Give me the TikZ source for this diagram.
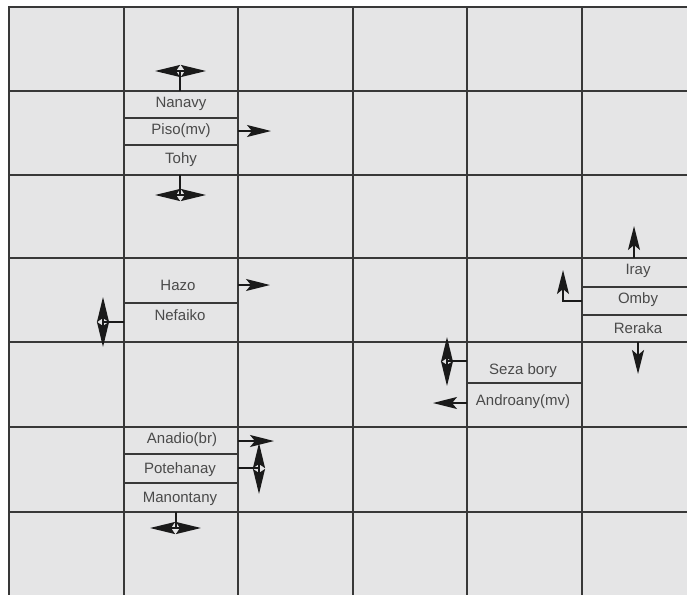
\documentclass[tikz,border=0pt]{standalone}
\usepackage{fontspec}
\setmainfont{Liberation Sans}
\usetikzlibrary{arrows.meta}
\definecolor{cellc}{HTML}{E5E5E6}
\definecolor{linec}{HTML}{383838}
\definecolor{txtc}{HTML}{4A4A4A}
\definecolor{arrc}{HTML}{1A1A1A}
\begin{document}
\begin{tikzpicture}[x=1pt,y=-1pt,
 grid/.style={draw=linec, line width=2pt},
 sub/.style={draw=linec, line width=1.6pt},
 lbl/.style={text=txtc, font=\fontsize{15}{17}\selectfont, inner sep=0pt},
 sarr/.style={draw=arrc, line width=1.8pt, -{Stealth[length=24pt,width=12pt,inset=5pt]}},
 darr/.style={draw=arrc, line width=1.8pt, {Stealth[length=25pt,width=12pt,inset=4pt]}-{Stealth[length=25pt,width=12pt,inset=4pt]}},
 stem/.style={draw=arrc, line width=1.8pt}]
\useasboundingbox (0,0) rectangle (687,595);
\fill[white] (0,0) rectangle (687,595);
\fill[cellc] (9,7) rectangle (687,595);
% grid
\foreach \y in {7,91,175,258,342,427,512} \draw[grid] (8,\y) -- (687,\y);
\foreach \x in {9,124,238,353,467,582} \draw[grid] (\x,6) -- (\x,595);
% sub-lines
\draw[sub] (124,118) -- (238,118);
\draw[sub] (124,145) -- (238,145);
\draw[sub] (124,303) -- (238,303);
\draw[sub] (582,287) -- (687,287);
\draw[sub] (582,315) -- (687,315);
\draw[sub] (467,383) -- (582,383);
\draw[sub] (124,454) -- (238,454);
\draw[sub] (124,483) -- (238,483);
% labels
\node[lbl] (nanavy) at (181,104) {Nanavy};
\node[lbl] (piso) at (181,131) {Piso(mv)};
\node[lbl] (tohy) at (181,160) {Tohy};
\node[lbl] (hazo) at (178,285) {Hazo};
\node[lbl] (nefaiko) at (180,315) {Nefaiko};
\node[lbl] (iray) at (638,271) {Iray};
\node[lbl] (omby) at (638,300) {Omby};
\node[lbl] (reraka) at (638,328) {Reraka};
\node[lbl] (seza) at (523,371) {Seza bory};
\node[lbl] (androany) at (523,402) {Androany(mv)};
\node[lbl] (anadio) at (182,440) {Anadio(br)};
\node[lbl] (potehanay) at (180,470) {Potehanay};
\node[lbl] (manontany) at (180,499) {Manontany};
% arrow coordinates
\coordinate (topS) at (180,91);   \coordinate (topC) at (180,71);
\coordinate (topL) at (155,71);   \coordinate (topR) at (206,71);
\coordinate (pisoA) at (238,131); \coordinate (pisoB) at (271,131);
\coordinate (tohS) at (180,175);  \coordinate (tohC) at (180,195);
\coordinate (tohL) at (155,195);  \coordinate (tohR) at (206,195);
\coordinate (hazoA) at (238,285); \coordinate (hazoB) at (270,285);
\coordinate (nefS) at (124,322);  \coordinate (nefC) at (103,322);
\coordinate (nefT) at (103,297);  \coordinate (nefB) at (103,347);
\coordinate (irayA) at (634,258); \coordinate (irayB) at (634,226);
\coordinate (ombS) at (582,301);  \coordinate (ombE) at (563,301);
\coordinate (ombT) at (563,270);
\coordinate (rerA) at (638,342);  \coordinate (rerB) at (638,374);
\coordinate (sezS) at (467,361);  \coordinate (sezC) at (447,361);
\coordinate (sezT) at (447,337);  \coordinate (sezB) at (447,386);
\coordinate (andA) at (467,403);  \coordinate (andB) at (433,403);
\coordinate (anaA) at (238,441);  \coordinate (anaB) at (274,441);
\coordinate (potS) at (238,468);  \coordinate (potC) at (259,468);
\coordinate (potT) at (259,443);  \coordinate (potB) at (259,494);
\coordinate (manS) at (176,512);  \coordinate (manC) at (176,528);
\coordinate (manL) at (150,528);  \coordinate (manR) at (201,528);
% arrows
\draw[stem] (topS) -- (topC);  \draw[darr] (topL) -- (topR);
\draw[sarr] (pisoA) -- (pisoB);
\draw[stem] (tohS) -- (tohC);  \draw[darr] (tohL) -- (tohR);
\draw[sarr] (hazoA) -- (hazoB);
\draw[stem] (nefS) -- (nefC);  \draw[darr] (nefT) -- (nefB);
\draw[sarr] (irayA) -- (irayB);
\draw[sarr] (ombS) -- (ombE) -- (ombT);
\draw[sarr] (rerA) -- (rerB);
\draw[stem] (sezS) -- (sezC);  \draw[darr] (sezT) -- (sezB);
\draw[sarr] (andA) -- (andB);
\draw[sarr] (anaA) -- (anaB);
\draw[stem] (potS) -- (potC);  \draw[darr] (potT) -- (potB);
\draw[stem] (manS) -- (manC);  \draw[darr] (manL) -- (manR);
\end{tikzpicture}
\end{document}
